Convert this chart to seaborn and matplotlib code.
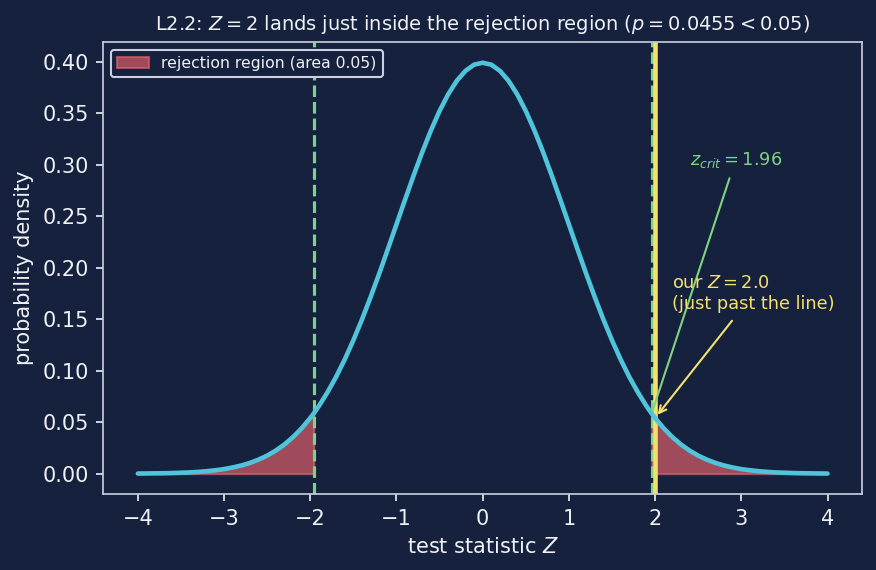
import numpy as np
import pandas as pd
import seaborn as sns
import matplotlib.pyplot as plt

# standard normal density (step 0.1, plus the +-1.96 cut points)
z_values = [-4.0, -3.9, -3.8, -3.7, -3.6, -3.5, -3.4, -3.3, -3.2, -3.1,
            -3.0, -2.9, -2.8, -2.7, -2.6, -2.5, -2.4, -2.3, -2.2, -2.1,
            -2.0, -1.96, -1.9, -1.8, -1.7, -1.6, -1.5, -1.4, -1.3, -1.2, -1.1,
            -1.0, -0.9, -0.8, -0.7, -0.6, -0.5, -0.4, -0.3, -0.2, -0.1,
            0.0, 0.1, 0.2, 0.3, 0.4, 0.5, 0.6, 0.7, 0.8, 0.9,
            1.0, 1.1, 1.2, 1.3, 1.4, 1.5, 1.6, 1.7, 1.8, 1.9, 1.96,
            2.0, 2.1, 2.2, 2.3, 2.4, 2.5, 2.6, 2.7, 2.8, 2.9,
            3.0, 3.1, 3.2, 3.3, 3.4, 3.5, 3.6, 3.7, 3.8, 3.9, 4.0]
density = [0.0001, 0.0002, 0.0003, 0.0004, 0.0006, 0.0009, 0.0012, 0.0017, 0.0024, 0.0033,
           0.0044, 0.0060, 0.0079, 0.0104, 0.0136, 0.0175, 0.0224, 0.0283, 0.0355, 0.0440,
           0.0540, 0.0584, 0.0656, 0.0790, 0.0940, 0.1109, 0.1295, 0.1497, 0.1714, 0.1942, 0.2179,
           0.2420, 0.2661, 0.2897, 0.3123, 0.3332, 0.3521, 0.3683, 0.3814, 0.3910, 0.3970,
           0.3989, 0.3970, 0.3910, 0.3814, 0.3683, 0.3521, 0.3332, 0.3123, 0.2897, 0.2661,
           0.2420, 0.2179, 0.1942, 0.1714, 0.1497, 0.1295, 0.1109, 0.0940, 0.0790, 0.0656, 0.0584,
           0.0540, 0.0440, 0.0355, 0.0283, 0.0224, 0.0175, 0.0136, 0.0104, 0.0079, 0.0060,
           0.0044, 0.0033, 0.0024, 0.0017, 0.0012, 0.0009, 0.0006, 0.0004, 0.0003, 0.0002, 0.0001]
z_crit = 1.96
z_obs = 2.0
p_value = 0.0455

bg = '#16213e'
fg = '#eef1f6'
spine = '#c9d1e0'
sns.set_theme(style='dark', rc={'figure.facecolor': bg, 'axes.facecolor': bg,
                               'axes.edgecolor': spine, 'axes.labelcolor': fg,
                               'text.color': fg, 'xtick.color': fg, 'ytick.color': fg,
                               'xtick.bottom': True, 'ytick.left': True,
                               'axes.grid': False})
plt.rcParams['font.family'] = ['DejaVu Sans']

df = pd.DataFrame({'z': z_values, 'pdf': density})
z = df['z'].values
pdf = df['pdf'].values

fig, ax = plt.subplots(figsize=(5.84, 3.8), dpi=150)
fig.subplots_adjust(left=0.118, right=0.984, top=0.926, bottom=0.133)

red = '#e9636c'
ax.fill_between(z, 0, pdf, where=(z <= -z_crit), color=red, alpha=0.65,
                linewidth=1, label='rejection region (area 0.05)')
ax.fill_between(z, 0, pdf, where=(z >= z_crit), color=red, alpha=0.65, linewidth=1)

green = '#7fd383'
yellow = '#f4e06d'
ax.axvline(-z_crit, color=green, linestyle='--', linewidth=1.5)
ax.axvline(z_crit, color=green, linestyle='--', linewidth=1.5)
ax.axvline(z_obs, color=yellow, linewidth=2.2)

sns.lineplot(data=df, x='z', y='pdf', color='#4fc4da', linewidth=2.2, ax=ax)

ax.annotate(r'$z_{crit} = 1.96$', xy=(z_crit, 0.0584), xytext=(2.4, 0.30),
            color=green, fontsize=8.5,
            arrowprops=dict(arrowstyle='-', color=green, lw=1))
ax.annotate('our $Z = 2.0$\n(just past the line)', xy=(z_obs, 0.054), xytext=(2.2, 0.16),
            color=yellow, fontsize=8.5,
            arrowprops=dict(arrowstyle='->', color=yellow, lw=1))

ax.set_xlabel('test statistic $Z$', fontsize=10)
ax.set_ylabel('probability density', fontsize=10)
ax.set_title(f'L2.2: $Z = 2$ lands just inside the rejection region ($p = {p_value} < 0.05$)',
             fontsize=9.3, color=fg)
ax.tick_params(labelsize=10, length=3.5, width=0.8)
for s in ax.spines.values():
    s.set_linewidth(0.8)

leg = ax.legend(loc='upper left', fontsize=7.5, facecolor=bg, edgecolor=spine, framealpha=1)
for t in leg.get_texts():
    t.set_color(fg)

fig.savefig('out.png', dpi=150, facecolor=bg)
